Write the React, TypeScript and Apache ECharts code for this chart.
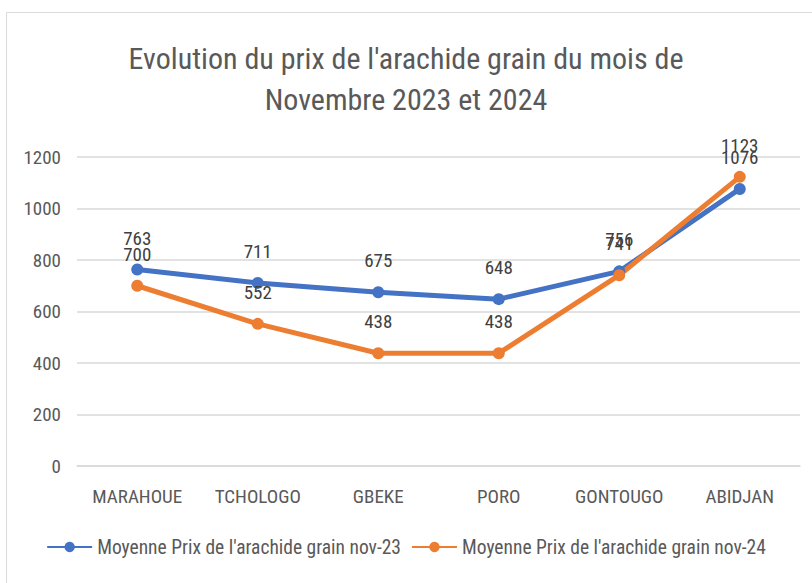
import React, { useEffect, useRef } from "react";
import * as echarts from "echarts";

const categories = ["MARAHOUE", "TCHOLOGO", "GBEKE", "PORO", "GONTOUGO", "ABIDJAN"];
const nov23 = [763, 711, 675, 648, 756, 1076];
const nov24 = [700, 552, 438, 438, 741, 1123];
const seriesNames = [
  "Moyenne Prix de l'arachide grain nov-23",
  "Moyenne Prix de l'arachide grain nov-24",
];
const titleLines = ["Evolution du prix de l'arachide grain du mois de", "Novembre 2023 et 2024"];

const FONT = "'Liberation Sans Narrow', 'Roboto Condensed', 'Open Sans', sans-serif";

export default function App() {
  const ref = useRef<HTMLDivElement>(null);
  useEffect(() => {
    if (!ref.current) return;
    const chart = echarts.init(ref.current, undefined, { renderer: "svg" });
    const labelCfg = {
      show: true,
      position: "top",
      distance: 16,
      color: "#404040",
      fontSize: 19,
      fontFamily: FONT,
    };
    chart.setOption({
      animation: false,
      backgroundColor: "#fff",
      graphic: [
        {
          type: "rect",
          shape: { x: 6.5, y: 12.5, width: 820, height: 600 },
          style: { fill: "none", stroke: "#d9d9d9", lineWidth: 1 },
          silent: true,
        },
      ],
      title: {
        text: titleLines.join("\n"),
        left: "center",
        top: 33,
        textStyle: {
          color: "#595959",
          fontSize: 30,
          fontWeight: "normal",
          fontFamily: FONT,
          lineHeight: 41,
        },
      },
      legend: {
        bottom: 21,
        left: "center",
        itemWidth: 45,
        itemHeight: 13,
        itemGap: 10,
        textStyle: { color: "#595959", fontSize: 19.5, fontFamily: FONT },
        data: seriesNames,
      },
      grid: { left: 77, right: 12, top: 157, bottom: 583 - 466 },
      xAxis: {
        type: "category",
        data: categories,
        axisLine: { show: true, lineStyle: { color: "#d9d9d9", width: 1.5 } },
        axisTick: { show: false },
        axisLabel: { color: "#595959", fontSize: 19, fontFamily: FONT, margin: 21 },
      },
      yAxis: {
        type: "value",
        min: 0,
        max: 1200,
        interval: 200,
        axisLine: { show: false },
        axisTick: { show: false },
        splitLine: { lineStyle: { color: "#d9d9d9", width: 1.5 } },
        axisLabel: {
          color: "#595959",
          fontSize: 19,
          fontFamily: FONT,
          margin: 16,
          formatter: (v: number) => String(v),
        },
      },
      series: [
        {
          name: seriesNames[0],
          type: "line",
          data: nov23,
          symbol: "circle",
          symbolSize: 12,
          lineStyle: { width: 5, color: "#4472C4" },
          itemStyle: { color: "#4472C4" },
          label: labelCfg,
        },
        {
          name: seriesNames[1],
          type: "line",
          data: nov24,
          symbol: "circle",
          symbolSize: 12,
          lineStyle: { width: 5, color: "#ED7D31" },
          itemStyle: { color: "#ED7D31" },
          label: labelCfg,
        },
      ],
    });
    return () => chart.dispose();
  }, []);
  return (
    <div
      ref={ref}
      style={{ position: "absolute", left: 0, top: 0, width: 812, height: 583 }}
    />
  );
}
